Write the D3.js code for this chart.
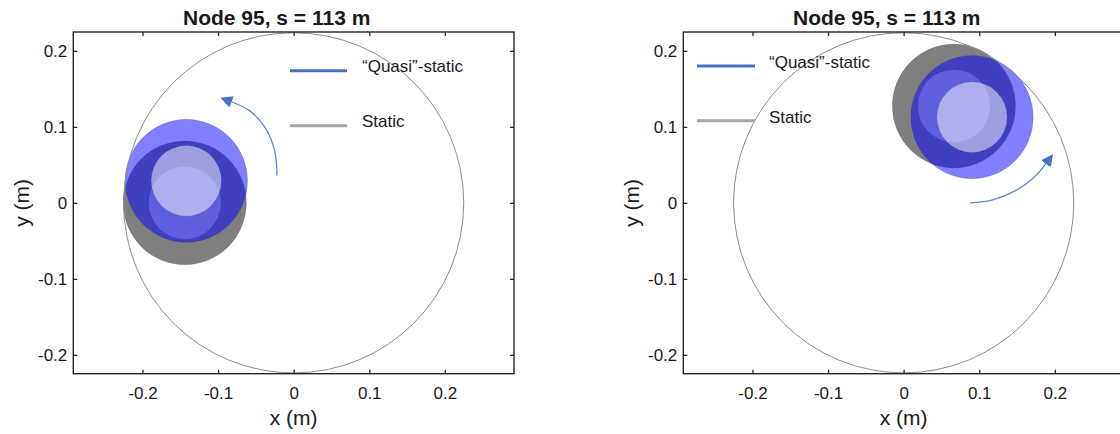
<!DOCTYPE html>
<html>
<head>
<meta charset="utf-8">
<script src="https://cdn.jsdelivr.net/npm/d3@7"></script>
<style>
  html, body { margin: 0; padding: 0; background: #fff; overflow: hidden; }
  text { font-family: Arial, "Liberation Sans", Helvetica, sans-serif; fill: #1a1a1a; }
</style>
</head>
<body>
<div class="canva"></div>
<script>
// axis ticks (m)
const xTicks = [-0.2, -0.1, 0, 0.1, 0.2];
const yTicks = [-0.2, -0.1, 0, 0.1, 0.2];
const xLimits = [-0.2915, 0.2915];
const yLimits = [-0.2248, 0.2248];

const titles = ["Node 95, s = 113 m", "Node 95, s = 113 m"];
const seriesNames = ["\u201cQuasi\u201d-static", "Static"];

// boundary circle radius (m)
const boundaryR = 0.225;

// static discs per panel: [cx, cy, rOuter, rInner]
const staticDiscs = [
  [-0.144, 0.000, 0.0815, 0.048],
  [0.0665, 0.1275, 0.0815, 0.048]
];
// quasi-static discs per panel: [cx, cy, rOuter, rInner]
const quasiDiscs = [
  [-0.142, 0.029, 0.081, 0.0465],
  [0.0904, 0.1128, 0.081, 0.0465]
];

// rotation arrows, traced points (m)
const arrowPts = [
  [[-0.022, 0.036], [-0.025, 0.068], [-0.037, 0.098], [-0.058, 0.121], [-0.085, 0.134]],
  [[0.088, 0.000], [0.118, 0.004], [0.148, 0.016], [0.172, 0.033], [0.190, 0.054]]
];

const W = 1120, H = 434;
const svg = d3.select(".canva").append("svg")
    .attr("width", W)
    .attr("height", H);

svg.append("defs").append("marker")
    .attr("id", "head")
    .attr("viewBox", "0 0 10 10")
    .attr("refX", 2).attr("refY", 5)
    .attr("markerWidth", 12).attr("markerHeight", 12)
    .attr("markerUnits", "userSpaceOnUse")
    .attr("orient", "auto")
  .append("path")
    .attr("d", "M0,0 L10,5 L0,10 Z")
    .attr("fill", "#4472c4");

const panelLeft = [73.3, 683.3];
const plotTop = 32, pw = 440.7, ph = 341.7;
// legend placement per panel
const legendAt = [
  { x1: 290, x2: 347, tx: 362, y: [70.7, 125.7], ty: [72, 126.7] },
  { x1: 697, x2: 755, tx: 769, y: [66, 120.7], ty: [68.3, 123] }
];
const legendColors = ["#4472c4", "#a6a6a6"];
const fontStack = "Arial, 'Liberation Sans', Helvetica, sans-serif";

panelLeft.forEach((left, p) => {
  const x = d3.scaleLinear().domain(xLimits).range([left, left + pw]);
  const y = d3.scaleLinear().domain(yLimits).range([plotTop + ph, plotTop]);
  const g = svg.append("g");

  const clipId = "clip" + p;
  g.append("clipPath").attr("id", clipId)
    .append("rect").attr("x", left).attr("y", plotTop).attr("width", pw).attr("height", ph);
  const plot = g.append("g").attr("clip-path", `url(#${clipId})`);

  const disc = (c, r, fill) => plot.append("ellipse")
      .attr("cx", x(c[0])).attr("cy", y(c[1]))
      .attr("rx", x(r) - x(0)).attr("ry", y(0) - y(r))
      .attr("fill", fill).attr("fill-opacity", 0.5)
      .attr("stroke", "#444").attr("stroke-opacity", 0.25).attr("stroke-width", 0.7);

  const s = staticDiscs[p], q = quasiDiscs[p];
  disc(s, s[2], "#000");
  disc(s, s[3], "#fff");
  disc(q, q[2], "#0000ff");
  disc(q, q[3], "#fff");

  plot.append("circle")
      .attr("cx", x(0)).attr("cy", y(0))
      .attr("r", x(boundaryR) - x(0))
      .attr("fill", "none")
      .attr("stroke", "#8c8c8c")
      .attr("stroke-width", 1);

  const line = d3.line().x(d => x(d[0])).y(d => y(d[1])).curve(d3.curveCatmullRom);
  plot.append("path")
      .attr("d", line(arrowPts[p]))
      .attr("fill", "none")
      .attr("stroke", "#5b8ad0")
      .attr("stroke-width", 1.3)
      .attr("marker-end", "url(#head)");

  // legend
  const L = legendAt[p];
  seriesNames.forEach((name, i) => {
    g.append("line")
        .attr("x1", L.x1).attr("x2", L.x2)
        .attr("y1", L.y[i]).attr("y2", L.y[i])
        .attr("stroke", legendColors[i])
        .attr("stroke-width", 3);
    g.append("text")
        .attr("x", L.tx).attr("y", L.ty[i])
        .attr("font-size", 17)
        .text(name);
  });

  // axes with inward ticks on all sides, plain hyphen minus like the original
  const fmt = d => String(d);
  const tk = 4;
  const axB = g.append("g").attr("transform", `translate(0,${plotTop + ph})`)
      .call(d3.axisBottom(x).tickValues(xTicks).tickSizeInner(-tk).tickSizeOuter(0).tickPadding(13).tickFormat(fmt));
  const axT = g.append("g").attr("transform", `translate(0,${plotTop})`)
      .call(d3.axisTop(x).tickValues(xTicks).tickSizeInner(-tk).tickSizeOuter(0).tickFormat(""));
  const axL = g.append("g").attr("transform", `translate(${left},0)`)
      .call(d3.axisLeft(y).tickValues(yTicks).tickSizeInner(-tk).tickSizeOuter(0).tickPadding(6).tickFormat(fmt));
  const axR = g.append("g").attr("transform", `translate(${left + pw},0)`)
      .call(d3.axisRight(y).tickValues(yTicks).tickSizeInner(-tk).tickSizeOuter(0).tickFormat(""));
  [axB, axT, axL, axR].forEach(a => {
    a.select(".domain").remove();
    a.selectAll(".tick line").attr("stroke", "#262626").attr("stroke-width", 1.3);
    a.selectAll("text").attr("font-size", 17).attr("fill", "#1a1a1a")
      .style("font-family", fontStack);
  });

  g.append("rect")
      .attr("x", left).attr("y", plotTop).attr("width", pw).attr("height", ph)
      .attr("fill", "none").attr("stroke", "#262626").attr("stroke-width", 1.4);

  g.append("text")
      .attr("x", left + pw / 2 - 17).attr("y", 25)
      .attr("text-anchor", "middle")
      .attr("font-size", 21).attr("font-weight", "bold")
      .text(titles[p]);

  g.append("text")
      .attr("x", left + pw / 2).attr("y", 425)
      .attr("text-anchor", "middle")
      .attr("font-size", 21)
      .text("x (m)");

  g.append("text")
      .attr("transform", `translate(${left - 44},${y(0)}) rotate(-90)`)
      .attr("text-anchor", "middle")
      .attr("font-size", 21)
      .text("y (m)");
});
</script>
</body>
</html>
